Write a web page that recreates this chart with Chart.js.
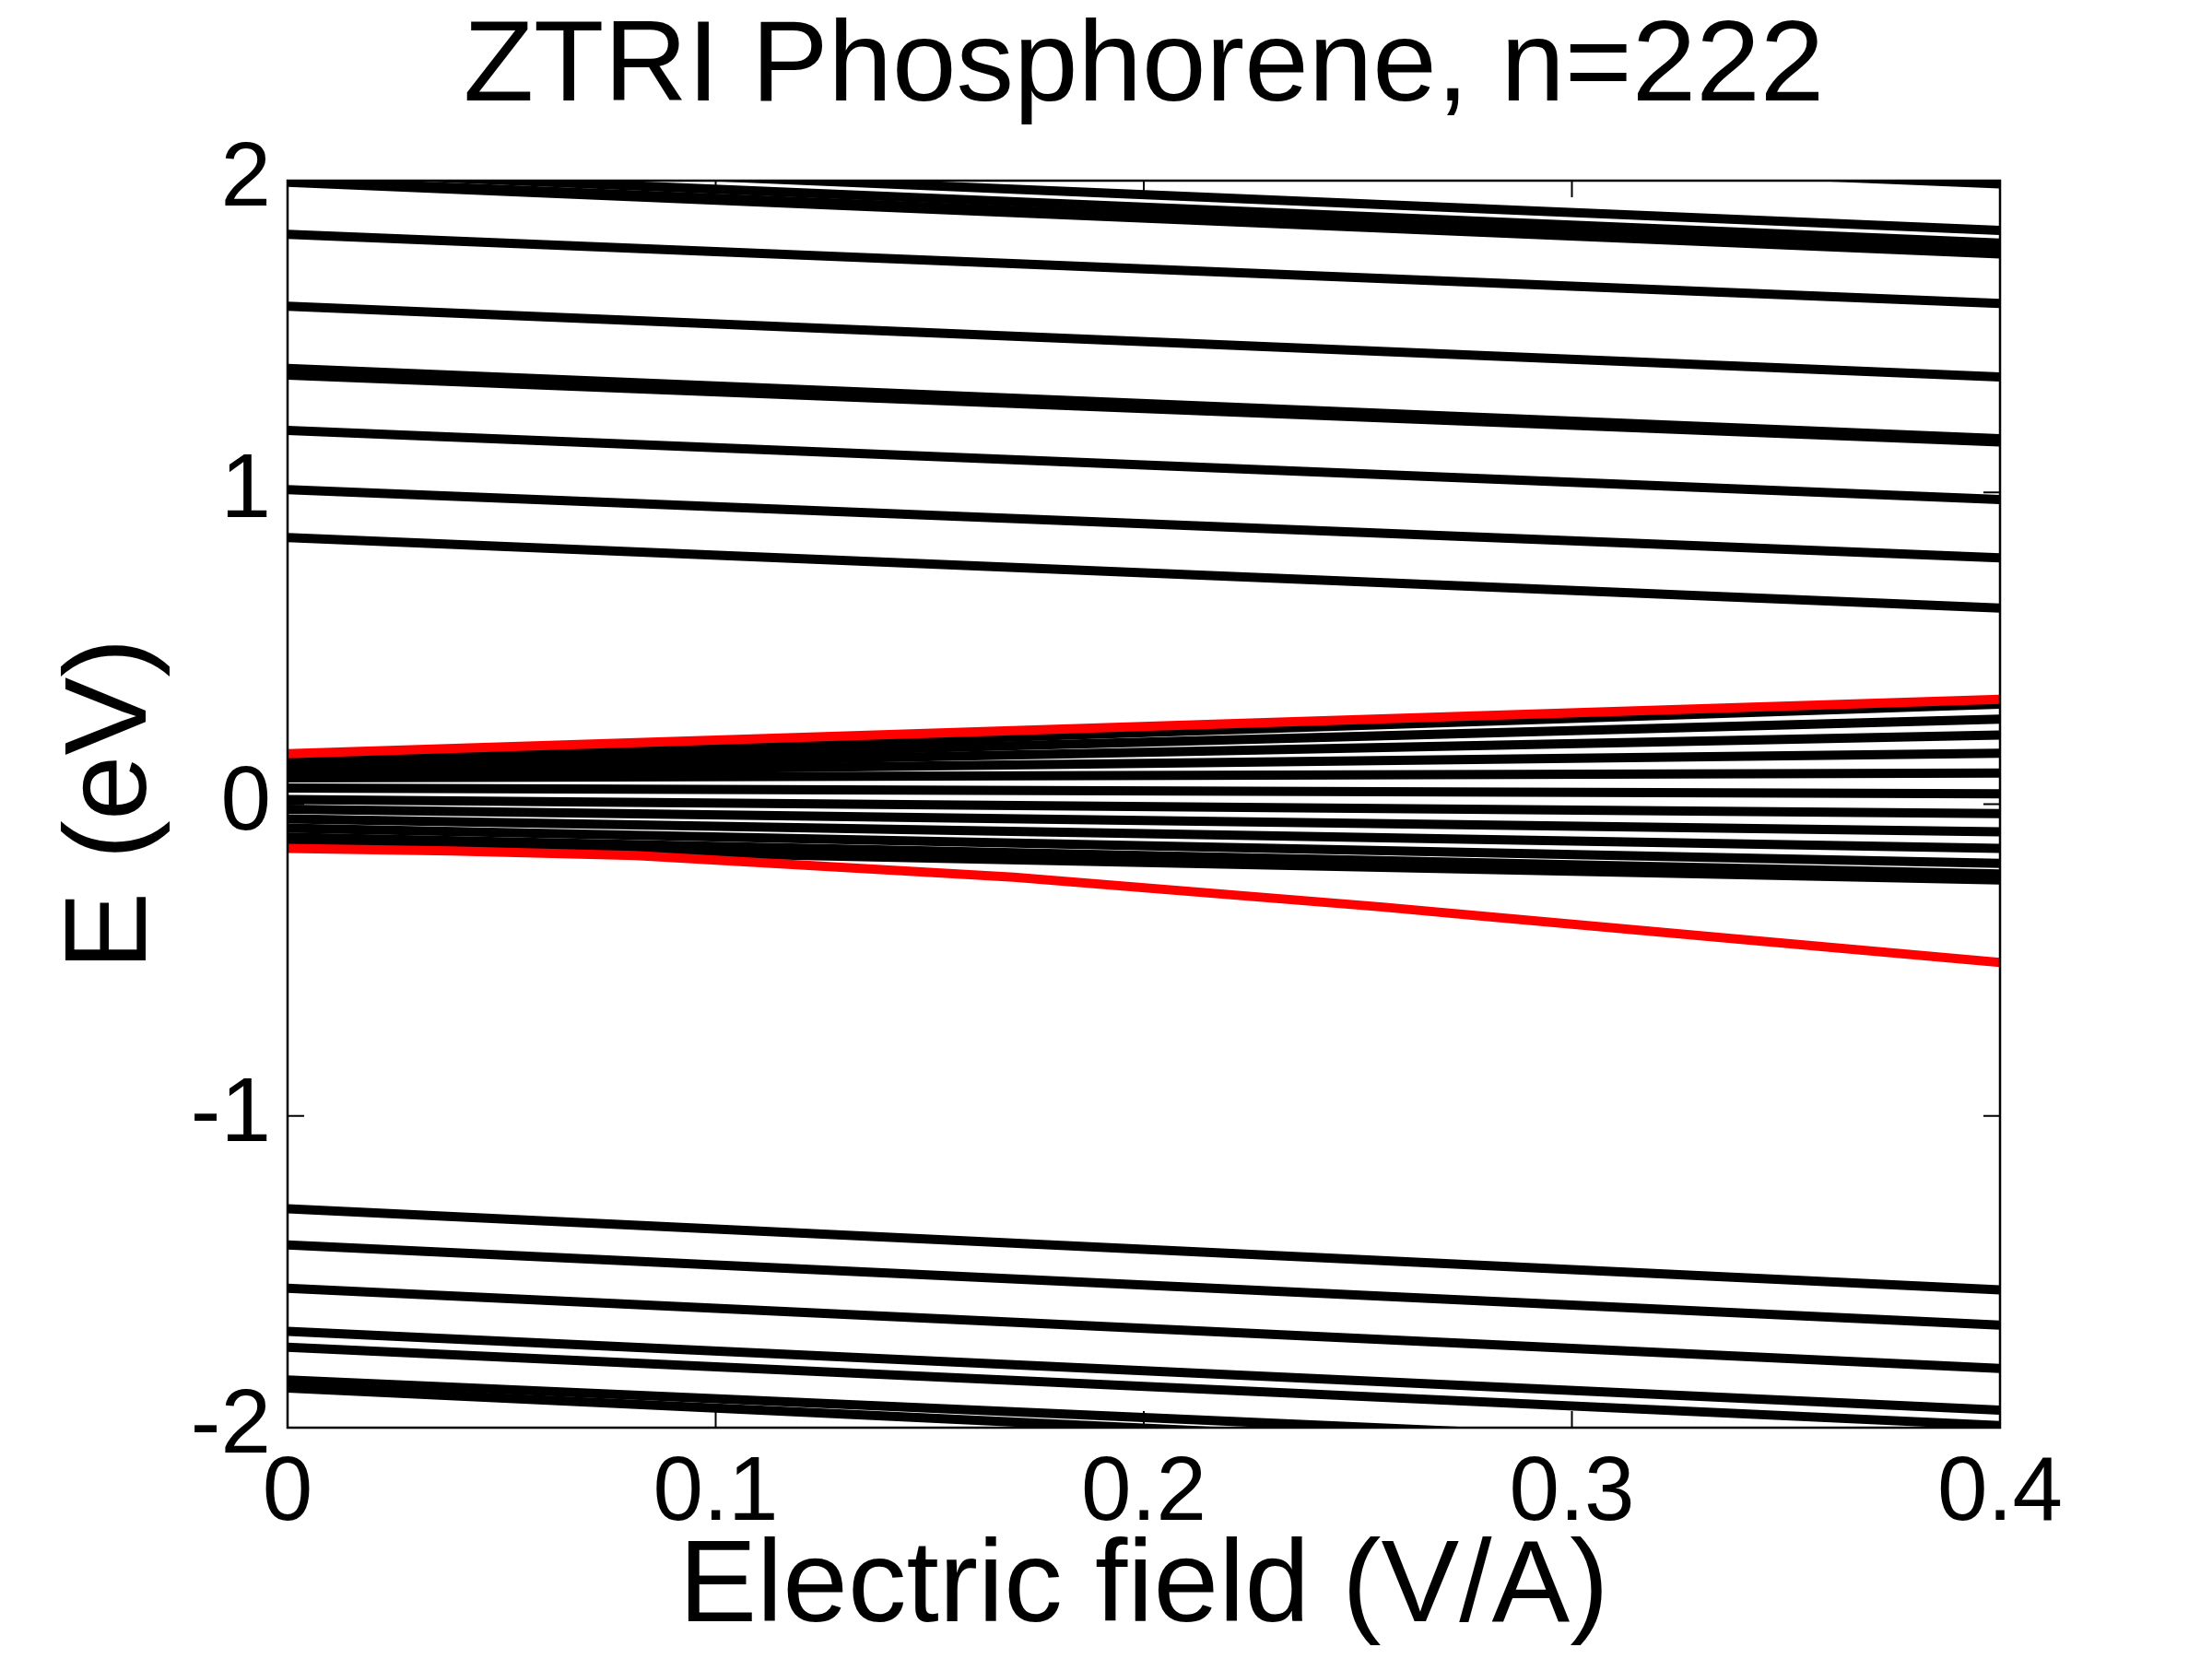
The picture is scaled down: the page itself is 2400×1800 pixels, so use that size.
<!DOCTYPE html>
<html lang="en">
<head>
  <meta charset="UTF-8">
  <title>ZTRI Phosphorene, n=222</title>
  <script src="https://cdn.jsdelivr.net/npm/chart.js"></script>
  <style>
    html, body { margin: 0; padding: 0; background: #fff; }
    canvas { display: block; }
  </style>
</head>
<body>
  <canvas id="bands" width="2400" height="1800"></canvas>

  <script>
    // electric field (V/A) at the two ends of every level
    const fieldEnds = [0, 0.4];

    // upper levels, energy (eV) at 0 and at 0.4 V/A
    const upperStart = [2.21, 2.07, 2.03, 2.00, 1.995, 1.828, 1.597, 1.398, 1.376, 1.199, 1.009, 0.855];
    const upperEnd   = [1.99, 1.84, 1.80, 1.775, 1.765, 1.606, 1.37, 1.172, 1.162, 0.977, 0.79, 0.629];

    // lower levels
    const lowerStart = [-1.298, -1.414, -1.553, -1.691, -1.742, -1.847, -1.873];
    const lowerEnd   = [-1.558, -1.671, -1.810, -1.944, -1.993, -2.088, -2.13];

    // levels near zero
    const midStart = [0.138, 0.125, 0.111, 0.098, 0.084, 0.052, 0.015, -0.016, -0.047, -0.077, -0.106, -0.131];
    const midEnd   = [0.321, 0.273, 0.222, 0.163, 0.100, 0.033, -0.030, -0.089, -0.142, -0.190, -0.224, -0.243];

    // edge states (red)
    const edgeUpX = [0, 0.0814, 0.2773, 0.4];
    const edgeUpY = [0.162, 0.197, 0.283, 0.336];
    const edgeLowX = [0, 0.0383, 0.0814, 0.1696, 0.2558, 0.2773, 0.339, 0.4];
    const edgeLowY = [-0.142, -0.150, -0.165, -0.234, -0.330, -0.357, -0.433, -0.508];

    const xTicks = [0, 0.1, 0.2, 0.3, 0.4];
    const yTicks = [-2, -1, 0, 1, 2];

    const LW = 10;
    const zip = (xs, ys) => xs.map((x, i) => ({ x, y: ys[i] }));

    const datasets = [];
    const addLine = (pts, color, order) => datasets.push({
      data: pts,
      borderColor: color,
      borderWidth: LW,
      pointRadius: 0,
      tension: 0,
      fill: false,
      clip: 0,
      order
    });

    addLine(zip(edgeUpX, edgeUpY), '#ff0000', 0);
    addLine(zip(edgeLowX, edgeLowY), '#ff0000', 0);
    upperStart.forEach((v, i) => addLine(zip(fieldEnds, [v, upperEnd[i]]), '#000000', 1));
    midStart.forEach((v, i) => addLine(zip(fieldEnds, [v, midEnd[i]]), '#000000', 1));
    lowerStart.forEach((v, i) => addLine(zip(fieldEnds, [v, lowerEnd[i]]), '#000000', 1));

    // box round the axes and inward tick marks, like matlab
    const axesBox = {
      id: 'axesBox',
      afterDatasetsDraw(chart) {
        const { ctx, chartArea: a, scales: { x, y } } = chart;
        const tl = 18;
        ctx.save();
        ctx.strokeStyle = '#000';
        ctx.lineWidth = 2.5;
        ctx.strokeRect(a.left, a.top, a.right - a.left, a.bottom - a.top);
        ctx.beginPath();
        for (const v of xTicks) {
          const px = x.getPixelForValue(v);
          ctx.moveTo(px, a.bottom); ctx.lineTo(px, a.bottom - tl);
          ctx.moveTo(px, a.top); ctx.lineTo(px, a.top + tl);
        }
        for (const v of yTicks) {
          const py = y.getPixelForValue(v);
          ctx.moveTo(a.left, py); ctx.lineTo(a.left + tl, py);
          ctx.moveTo(a.right, py); ctx.lineTo(a.right - tl, py);
        }
        ctx.lineWidth = 2;
        ctx.stroke();
        ctx.restore();
      }
    };

    const family = '"Liberation Sans", Arial, Helvetica, sans-serif';

    new Chart(document.getElementById('bands'), {
      type: 'line',
      data: { datasets },
      options: {
        responsive: false,
        animation: false,
        devicePixelRatio: 1,
        layout: { padding: { left: 0, right: 230, top: 0, bottom: 0 } },
        plugins: {
          legend: { display: false },
          tooltip: { enabled: false },
          title: {
            display: true,
            text: 'ZTRI Phosphorene, n=222',
            color: '#000',
            fullSize: false,
            font: { family, size: 125, weight: 'normal', lineHeight: 1.2 },
            padding: { top: 0, bottom: 46 }
          }
        },
        scales: {
          x: {
            type: 'linear',
            min: 0,
            max: 0.4,
            afterBuildTicks: s => { s.ticks = xTicks.map(v => ({ value: v })); },
            afterFit: s => { s.height = 251; },
            grid: { display: false, drawTicks: false },
            border: { display: false },
            ticks: {
              autoSkip: false,
              maxRotation: 0,
              padding: 14,
              color: '#000',
              font: { family, size: 98 },
              callback: v => String(v)
            },
            title: {
              display: true,
              text: 'Electric field (V/A)',
              color: '#000',
              font: { family, size: 127, lineHeight: 1.2 },
              padding: { top: 0, bottom: 0 }
            }
          },
          y: {
            min: -2,
            max: 2,
            afterBuildTicks: s => { s.ticks = yTicks.map(v => ({ value: v })); },
            afterFit: s => { s.width = 312; },
            grid: { display: false, drawTicks: false },
            border: { display: false },
            ticks: {
              autoSkip: false,
              padding: 18,
              color: '#000',
              font: { family, size: 98 },
              callback: v => String(v)
            },
            title: {
              display: true,
              text: 'E (eV)',
              color: '#000',
              font: { family, size: 127, lineHeight: 1.2 },
              padding: { top: 47, bottom: 0 }
            }
          }
        }
      },
      plugins: [axesBox]
    });
  </script>
</body>
</html>
